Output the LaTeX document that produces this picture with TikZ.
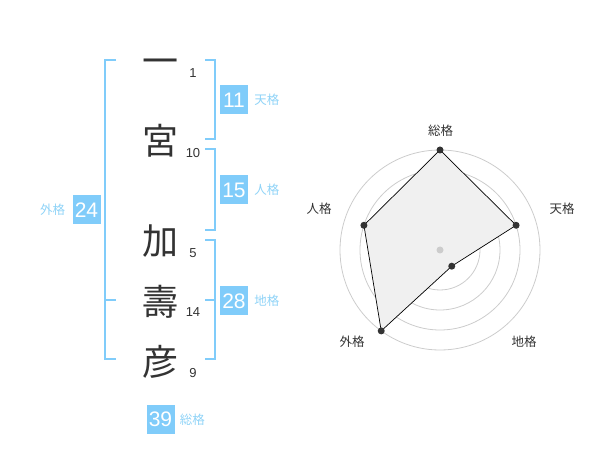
\documentclass[tikz,border=0pt]{standalone}
\usepackage{fontspec}
\setmainfont{Liberation Sans}
\newfontfamily\jpfont{Noto Sans CJK JP}
\usepackage{tikz}
\usetikzlibrary{positioning}

\definecolor{kakublue}{HTML}{80CCFA}
\definecolor{kakutext}{HTML}{8FD3F7}
\definecolor{inkgray}{HTML}{333333}
\definecolor{ringgray}{HTML}{CCCCCC}
\definecolor{fillgray}{HTML}{F0F0F0}

\begin{document}
\begin{tikzpicture}[x=1pt,y=-1pt,
	kanji/.style={inner sep=0pt,text=inkgray,font=\jpfont\fontsize{36}{36}\selectfont},
	strokes/.style={inner sep=0pt,text=inkgray,font=\fontsize{13}{13}\selectfont},
	kakubox/.style={fill=kakublue,text=white,inner sep=0pt,minimum width=28pt,minimum height=29pt,font=\fontsize{21}{21}\selectfont},
	kakulabel/.style={inner sep=0pt,text=kakutext,font=\jpfont\fontsize{12.5}{12.5}\selectfont},
	bracket/.style={draw=kakublue,line width=2pt},
	axislabel/.style={inner sep=0pt,text=inkgray,font=\jpfont\fontsize{12.5}{12.5}\selectfont}]
	\useasboundingbox (0,0) rectangle (600,470);

	%name characters
	\node[kanji] (k1) at (160,67) {一};
	\node[kanji] (k2) at (160,141) {宮};
	\node[kanji] (k3) at (160,241) {加};
	\node[kanji] (k4) at (160,302) {壽};
	\node[kanji] (k5) at (160,362) {彦};

	%stroke counts
	\node[strokes] (s1) at (193,73) {1};
	\node[strokes] (s2) at (193,153) {10};
	\node[strokes] (s3) at (193,253) {5};
	\node[strokes] (s4) at (193,312) {14};
	\node[strokes] (s5) at (193,373) {9};

	%brackets
	\draw[bracket] (205,60) -- (215,60) -- (215,139) -- (205,139);
	\draw[bracket] (205,149) -- (215,149) -- (215,230) -- (205,230);
	\draw[bracket] (205,240) -- (215,240) -- (215,359) -- (205,359);
	\draw[bracket] (205,300) -- (215,300);
	\draw[bracket] (116,60) -- (105,60) -- (105,359) -- (116,359);
	\draw[bracket] (105,300) -- (116,300);

	%kaku boxes
	\node[kakubox] (ten) at (234,100) {11};
	\node[kakulabel, right=6pt of ten] (tenl) {天格};
	\node[kakubox] (jin) at (234,190) {15};
	\node[kakulabel, right=6pt of jin] (jinl) {人格};
	\node[kakubox] (chi) at (234,301) {28};
	\node[kakulabel, right=6pt of chi] (chil) {地格};
	\node[kakubox] (gai) at (86.5,210) {24};
	\node[kakulabel, left=7pt of gai] (gail) {外格};
	\node[kakubox] (sou) at (160.5,419.5) {39};
	\node[kakulabel, right=5pt of sou] (soul) {総格};

	%radar chart
	\coordinate (c) at (440,250);
	\foreach \r in {20,40,60,80,100}
		\draw[ringgray,line width=0.8pt] (c) circle (\r);
	\foreach \a/\v/\n in {-90/100/1,-18/80/2,54/20/3,126/100/4,198/80/5}
		\coordinate (p\n) at ([shift={(\a:\v)}]c);
	\draw[fill=fillgray,line width=0.7pt] (p1) -- (p2) -- (p3) -- (p4) -- (p5) -- cycle;
	\foreach \n in {1,...,5}
		\fill[inkgray] (p\n) circle (3.5);
	\fill[ringgray] (c) circle (3.5);

	%axis labels
	\node[axislabel] (a1) at (440.5,131) {総格};
	\node[axislabel] (a2) at (562,209) {天格};
	\node[axislabel] (a3) at (524,342) {地格};
	\node[axislabel] (a4) at (352,342) {外格};
	\node[axislabel] (a5) at (319,209) {人格};
\end{tikzpicture}
\end{document}
